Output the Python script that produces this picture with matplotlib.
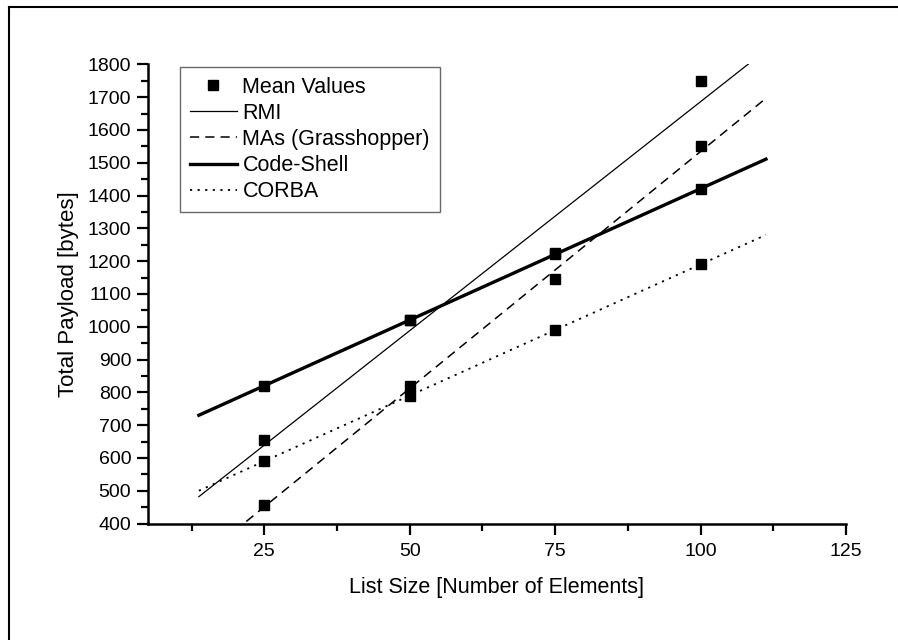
import numpy as np
import matplotlib
matplotlib.use("Agg")
import matplotlib.pyplot as plt
from matplotlib.lines import Line2D
from matplotlib.ticker import MultipleLocator

plt.rcParams['font.family'] = ['Liberation Sans', 'DejaVu Sans']

list_size = [25, 50, 75, 100]
rmi = [655, 1020, 1225, 1750]
mas = [455, 820, 1145, 1550]
code_shell = [820, 1020, 1222, 1420]
corba = [590, 790, 990, 1190]

series = [
    ("RMI", rmi, dict(ls='-', lw=0.9)),
    ("MAs (Grasshopper)", mas, dict(ls=(0, (6, 4)), lw=1.1)),
    ("Code-Shell", code_shell, dict(ls='-', lw=2.4)),
    ("CORBA", corba, dict(ls=(0, (1.2, 3)), lw=1.3)),
]

fig = plt.figure(figsize=(8.98, 6.40), dpi=100)
ax = fig.add_axes([0.1648, 0.182, 0.942 - 0.1648, 0.8995 - 0.182])

x = np.array(list_size, dtype=float)
ext = 0.15 * (x.max() - x.min())
xf = np.linspace(x.min() - ext, x.max() + ext, 50)

allx, ally = [], []
handles = []
for name, vals, st in series:
    p = np.polyfit(x, vals, 1)
    h, = ax.plot(xf, np.polyval(p, xf), color='black', label=name, **st)
    handles.append(h)
    allx += list_size
    ally += vals

mh, = ax.plot(allx, ally, ls='none', marker='s', ms=7.5, color='black',
              label='Mean Values', zorder=5)

ax.set_xlim(5, 125)
ax.set_ylim(400, 1800)
ax.xaxis.set_minor_locator(MultipleLocator(12.5))
ax.yaxis.set_major_locator(MultipleLocator(100))
ax.yaxis.set_minor_locator(MultipleLocator(50))
ax.set_xticks([25, 50, 75, 100, 125])
ax.set_xticklabels(['25', '50', '75', '100', '125'])

for s in ['top', 'right']:
    ax.spines[s].set_visible(False)
for s in ['left', 'bottom']:
    ax.spines[s].set_linewidth(1.8)

ax.tick_params(which='major', direction='out', length=8, width=1.6, labelsize=14, pad=4)
ax.tick_params(axis='x', which='major', pad=6)
ax.tick_params(which='minor', direction='out', length=5, width=1.6)

ax.set_xlabel('List Size [Number of Elements]', fontsize=15.5, labelpad=12)
ax.set_ylabel('Total Payload [bytes]', fontsize=16, labelpad=6)

leg = ax.legend([mh] + handles, ['Mean Values'] + [s[0] for s in series],
                loc='upper left', bbox_to_anchor=(180 / 898, 1 - 67 / 640),
                bbox_transform=fig.transFigure, fontsize=15.5,
                frameon=True, fancybox=False, edgecolor='#444444',
                borderpad=0.45, borderaxespad=0, handlelength=2.2,
                handletextpad=0.25, labelspacing=0.24, markerscale=1.0)
leg.get_frame().set_linewidth(1.0)

# partial figure frame (top and left)
fig.add_artist(Line2D([9 / 898, 1], [1 - 7 / 640, 1 - 7 / 640],
                      transform=fig.transFigure, color='black', lw=1.5))
fig.add_artist(Line2D([9 / 898, 9 / 898], [0, 1 - 7 / 640],
                      transform=fig.transFigure, color='black', lw=1.5))

fig.savefig('out.png', dpi=100)
